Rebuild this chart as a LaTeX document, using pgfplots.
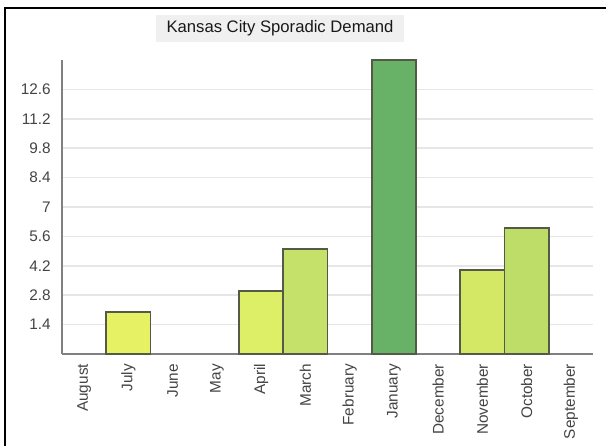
\documentclass[border=0pt]{standalone}
\usepackage{pgfplots}
\pgfplotsset{compat=1.18}
\usepackage{fontspec}
\setmainfont{Liberation Sans}
\definecolor{tickc}{HTML}{444444}
\definecolor{axisc}{HTML}{808080}
\definecolor{gridc}{HTML}{E6E6E6}
\definecolor{titlebg}{HTML}{F0F0F0}
\definecolor{cJul}{HTML}{E6F264}
\definecolor{cApr}{HTML}{DDEE67}
\definecolor{cMar}{HTML}{C6E16A}
\definecolor{cJan}{HTML}{67B266}
\definecolor{cNov}{HTML}{D5E866}
\definecolor{cOct}{HTML}{BDDD68}
\definecolor{edgec}{HTML}{555A48}
\begin{document}
\begin{tikzpicture}
\useasboundingbox (0,0) rectangle (454.5pt,334.5pt);
\fill[white] (0,0) rectangle (454.5pt,334.5pt);
\begin{axis}[
  at={(46.5pt,69pt)}, anchor=south west,
  width=398.25pt, height=220.5pt, scale only axis,
  xmin=-0.5, xmax=11.5, ymin=0, ymax=14,
  axis x line*=bottom, axis y line*=left,
  axis line style={axisc, line width=1.1pt, -},
  xtick={0,1,2,3,4,5,6,7,8,9,10,11},
  xticklabels={August,July,June,May,April,March,February,January,December,November,October,September},
  ytick={1.4,2.8,4.2,5.6,7,8.4,9.8,11.2,12.6},
  yticklabels={1.4,2.8,4.2,5.6,7,8.4,9.8,11.2,12.6},
  major tick length=0pt,
  x tick label style={rotate=90, anchor=east, font=\fontsize{11.5}{13}\selectfont, text=tickc},
  y tick label style={font=\fontsize{11.5}{13}\selectfont, text=tickc},
  xticklabel shift=4pt, yticklabel shift=5pt,
  ymajorgrids, grid style={gridc, line width=1.1pt},
  ybar, bar width=1, bar shift=0pt,
  every axis plot/.append style={draw=edgec, line width=1.2pt},
  clip=false,
]
\addplot[fill=cJul, draw=edgec] coordinates {(1,2)};
\addplot[fill=cApr, draw=edgec] coordinates {(4,3)};
\addplot[fill=cMar, draw=edgec] coordinates {(5,5)};
\addplot[fill=cJan, draw=edgec] coordinates {(7,14)};
\addplot[fill=cNov, draw=edgec] coordinates {(9,4)};
\addplot[fill=cOct, draw=edgec] coordinates {(10,6)};
\end{axis}
\node[fill=titlebg, minimum width=186pt, minimum height=20.25pt, inner sep=0pt,
  font=\fontsize{12.5}{14}\selectfont, text=black!90] at (210pt,313.1pt) {Kansas City Sporadic Demand};
\draw[black, line width=1.5pt] (3.75pt,0) -- (3.75pt,328.5pt) -- (454.5pt,328.5pt);
\end{tikzpicture}
\end{document}
